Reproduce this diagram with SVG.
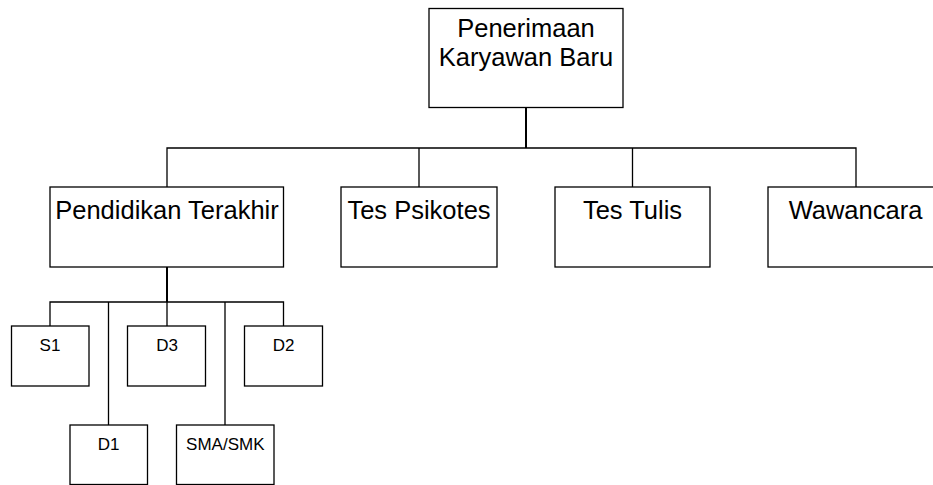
<svg xmlns="http://www.w3.org/2000/svg" width="933" height="485" viewBox="0 0 933 485">
<style>
.box{fill:#fff;stroke:#000;stroke-width:1.3}
.t{font-family:"Liberation Sans",Arial,sans-serif;fill:#000;text-anchor:middle}
.l{font-size:25.5px}
.s{font-size:17px}
.c{fill:none;stroke:#000;stroke-width:1.3}
.k{fill:none;stroke:#000;stroke-width:2}
</style>
<rect width="933" height="485" fill="#fff"/>
<g id="connectors">
<path class="k" d="M526,107.5V148"/>
<path class="c" d="M167,187V148H856V187M419,148V187M632.5,148V187"/>
<path class="k" d="M167,267V302"/>
<path class="c" d="M50,326V302H283.5V326M108.5,302V425M167,302V326M225,302V425"/>
</g>
<g id="n-penerimaan">
<rect class="box" x="429" y="8.5" width="194" height="99"/>
<text class="t l" x="526" y="37">Penerimaan</text>
<text class="t l" x="526" y="66">Karyawan Baru</text>
</g>
<g id="n-pendidikan">
<rect class="box" x="50" y="187" width="233.5" height="80"/>
<text class="t l" x="167" y="219">Pendidikan Terakhir</text>
</g>
<g id="n-psikotes">
<rect class="box" x="341" y="187" width="156" height="80"/>
<text class="t l" x="419" y="219">Tes Psikotes</text>
</g>
<g id="n-tulis">
<rect class="box" x="555" y="187" width="155" height="80"/>
<text class="t l" x="632.5" y="219">Tes Tulis</text>
</g>
<g id="n-wawancara">
<rect class="box" x="768" y="187" width="175" height="80"/>
<text class="t l" x="855.5" y="219">Wawancara</text>
</g>
<g id="n-s1">
<rect class="box" x="11.5" y="326" width="77.5" height="60"/>
<text class="t s" x="50" y="351">S1</text>
</g>
<g id="n-d3">
<rect class="box" x="127.5" y="326" width="78" height="60"/>
<text class="t s" x="167" y="351">D3</text>
</g>
<g id="n-d2">
<rect class="box" x="244.5" y="326" width="78" height="60"/>
<text class="t s" x="283.5" y="351">D2</text>
</g>
<g id="n-d1">
<rect class="box" x="70" y="425" width="77.5" height="59.5"/>
<text class="t s" x="108.5" y="450">D1</text>
</g>
<g id="n-sma">
<rect class="box" x="176.5" y="425" width="97.5" height="59.5"/>
<text class="t s" x="225.3" y="450">SMA/SMK</text>
</g>
</svg>
